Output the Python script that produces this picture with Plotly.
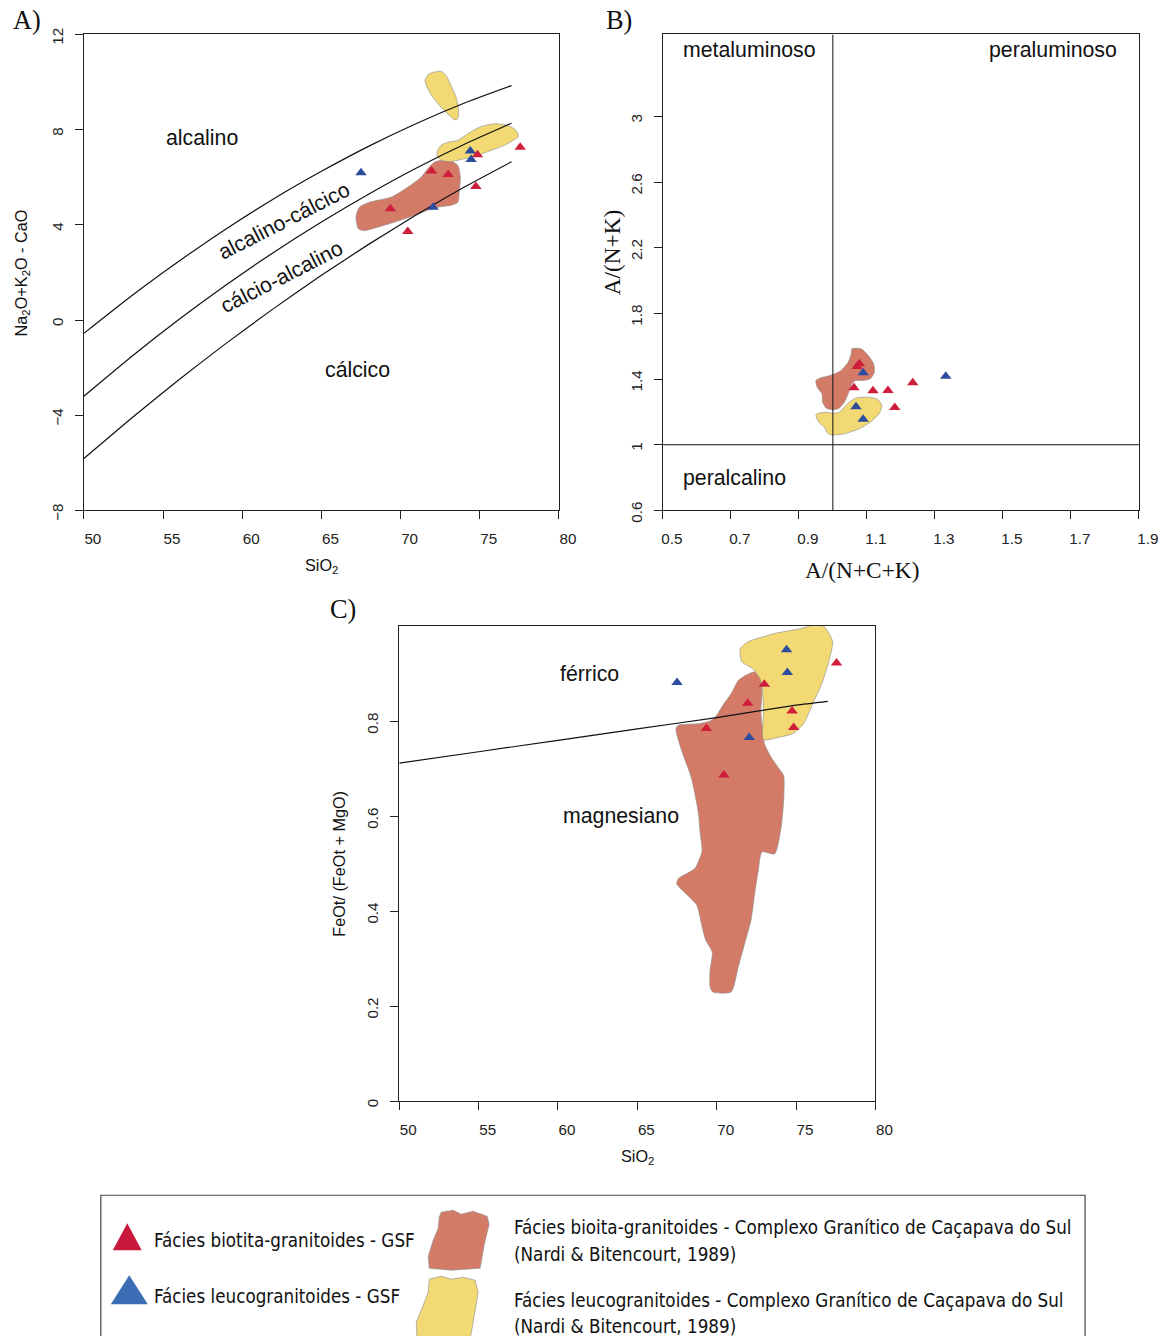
import plotly.graph_objects as go

W, H = 1172, 1336

# ---------------- DATA ----------------
# Panel A: MALI boundaries (Frost et al. 2001)
mali_sio2 = [50, 53, 56, 59, 62, 65, 68, 71, 74, 77]
mali_alk_alkcalc = [-0.56, 1.01, 2.47, 3.84, 5.10, 6.25, 7.31, 8.26, 9.11, 9.85]
mali_alkcalc_calcalk = [-3.20, -1.54, 0.02, 1.48, 2.85, 4.12, 5.30, 6.39, 7.38, 8.27]
mali_calcalk_calc = [-5.82, -4.13, -2.51, -0.97, 0.49, 1.88, 3.19, 4.42, 5.58, 6.65]

# Samples: biotite granitoids (red) and leucogranitoids (blue)
sio2_red = [71.95, 73.0, 74.85, 77.55, 74.75, 69.35, 70.45]
mali_red = [6.26, 6.12, 6.95, 7.26, 5.61, 4.68, 3.72]
fe_red = [0.838, 0.878, 0.787, 0.923, 0.822, 0.785, 0.687]
acnk_red = [1.078, 1.071, 1.062, 1.118, 1.162, 1.235, 1.182]
ank_red = [1.493, 1.477, 1.347, 1.329, 1.331, 1.378, 1.227]

sio2_blue = [67.5, 74.4, 74.45, 72.05]
mali_blue = [6.19, 7.10, 6.75, 4.74]
fe_blue = [0.882, 0.951, 0.903, 0.766]
acnk_blue = [1.089, 1.332, 1.068, 1.089]
ank_blue = [1.438, 1.418, 1.231, 1.156]

# Fields of the Caçapava do Sul granitic complex (Nardi & Bitencourt, 1989)
a_bio_x = [67.33, 67.18, 67.39, 68.02, 69.39, 70.45, 71.29, 71.71, 72.13, 72.55, 73.18, 73.61,
           73.77, 73.71, 73.61, 73.18, 72.34, 71.71, 70.87, 69.60, 68.55, 67.71]
a_bio_y = [3.84, 4.32, 4.74, 4.95, 5.16, 5.58, 6.00, 6.36, 6.63, 6.71, 6.68, 6.50,
           6.00, 5.45, 4.95, 4.82, 4.74, 4.61, 4.39, 4.11, 3.90, 3.76]
a_leu1_x = [72.34, 72.55, 72.97, 73.61, 74.24, 75.08, 75.92, 76.77, 77.29, 77.44, 77.18, 76.55,
            75.71, 74.87, 74.02, 73.18, 72.55, 72.30]
a_leu1_y = [7.13, 7.34, 7.47, 7.55, 7.83, 8.13, 8.25, 8.18, 7.97, 7.71, 7.58, 7.34,
            7.13, 6.92, 6.78, 6.66, 6.71, 6.92]
a_leu2_x = [71.81, 72.13, 72.55, 72.87, 73.18, 73.50, 73.65, 73.61, 73.39, 73.08, 72.55, 72.03,
            71.71, 71.54]
a_leu2_y = [10.35, 10.42, 10.45, 10.28, 9.86, 9.37, 8.88, 8.46, 8.42, 8.60, 8.95, 9.37,
            9.72, 10.07]

b_bio_x = [1.056, 1.083, 1.104, 1.120, 1.122, 1.110, 1.088, 1.066, 1.056, 1.045, 1.034, 1.018,
           1.002, 0.981, 0.970, 0.968, 0.954, 0.950, 0.965, 0.992, 1.024, 1.045, 1.054]
b_bio_y = [1.585, 1.585, 1.544, 1.493, 1.442, 1.402, 1.391, 1.391, 1.371, 1.310, 1.259, 1.222,
           1.212, 1.222, 1.259, 1.310, 1.350, 1.391, 1.408, 1.422, 1.452, 1.503, 1.554]
b_leu_x = [0.954, 0.981, 1.002, 1.020, 1.043, 1.066, 1.099, 1.131, 1.144, 1.136, 1.110, 1.077,
           1.034, 1.002, 0.986, 0.975, 0.959, 0.950]
b_leu_y = [1.190, 1.198, 1.192, 1.200, 1.250, 1.284, 1.290, 1.278, 1.239, 1.189, 1.137, 1.097,
           1.067, 1.060, 1.067, 1.107, 1.137, 1.178]

c_bio_x = [72.39, 72.74, 72.85, 72.78, 72.85, 73.01, 73.42, 74.00, 74.22, 74.22, 74.06, 73.65,
           72.85, 72.62, 72.39, 72.16, 71.82, 71.36, 70.91, 69.76, 69.58, 69.58, 69.72, 69.31,
           69.08, 68.74, 67.93, 67.48, 67.59, 68.62, 68.96, 69.08, 68.96, 68.85, 68.62, 68.39,
           67.93, 67.59, 67.43, 67.59, 68.85, 69.65, 70.00, 70.45, 70.91, 71.36, 71.82]
c_bio_y = [0.904, 0.893, 0.858, 0.823, 0.795, 0.753, 0.725, 0.697, 0.686, 0.634, 0.577, 0.521,
           0.525, 0.486, 0.437, 0.381, 0.339, 0.283, 0.230, 0.230, 0.241, 0.276, 0.314, 0.339,
           0.367, 0.413, 0.441, 0.458, 0.469, 0.490, 0.514, 0.528, 0.564, 0.606, 0.648, 0.683,
           0.725, 0.760, 0.785, 0.792, 0.795, 0.802, 0.813, 0.837, 0.858, 0.886, 0.897]
c_leu_x = [71.48, 71.94, 73.65, 75.25, 76.05, 76.74, 77.08, 77.31, 77.08, 76.62, 76.05, 75.48,
           74.79, 73.99, 72.95, 72.88, 72.95, 72.88, 72.72, 72.26, 71.59, 71.48]
c_leu_y = [0.953, 0.967, 0.985, 0.995, 1.002, 1.000, 0.985, 0.967, 0.928, 0.879, 0.837, 0.795,
           0.774, 0.767, 0.761, 0.774, 0.816, 0.865, 0.890, 0.911, 0.925, 0.939]

# Panel C: ferroan / magnesian boundary
fe_line_sio2 = [50, 55, 60, 65, 70, 75, 77]
fe_line_val = [0.712, 0.736, 0.760, 0.784, 0.808, 0.834, 0.842]

# Tick values
a_xticks = [50, 55, 60, 65, 70, 75, 80]
a_yticks = [-8, -4, 0, 4, 8, 12]
b_xticks = [0.5, 0.7, 0.9, 1.1, 1.3, 1.5, 1.7, 1.9]
b_yticks = [0.6, 1, 1.4, 1.8, 2.2, 2.6, 3]
c_yticks = [0, 0.2, 0.4, 0.6, 0.8]

# ---------------- STYLE ----------------
RED = "#cf1d3c"
BLUE = "#2d4c9e"
ORANGE = "#d47b68"
YELLOW = "#f2d974"
SANS = "Liberation Sans, Arial, sans-serif"
SERIF = "Liberation Serif, Times New Roman, serif"
LEG = "DejaVu Sans Condensed, Liberation Sans, sans-serif"

# layout calibration (design pixel -> page pixel)
SX, SY, OY = 0.983, 0.986, 6.5
FS = 1.015


def pxx(x):
    return (x / SX) / W


def pxy(y):
    return 1 - ((y - OY) / SY) / H


def f(s):
    return s * FS


fig = go.Figure()


def poly(xs, ys, color, xa, ya):
    fig.add_trace(go.Scatter(x=xs + xs[:1], y=ys + ys[:1], mode="lines", fill="toself",
                             fillcolor=color, line=dict(color="#8a8a8a", width=0.6, shape="spline", smoothing=0.6),
                             hoverinfo="skip", showlegend=False, xaxis=xa, yaxis=ya))


def line(xs, ys, xa, ya, w=1.2):
    fig.add_trace(go.Scatter(x=xs, y=ys, mode="lines", line=dict(color="#111", width=w, shape="spline", smoothing=0.5),
                             hoverinfo="skip", showlegend=False, xaxis=xa, yaxis=ya))


def pts(xs, ys, color, xa, ya):
    fig.add_trace(go.Scatter(x=xs, y=ys, mode="markers",
                             marker=dict(symbol="triangle-up", size=10, color=color, line=dict(width=0)),
                             showlegend=False, xaxis=xa, yaxis=ya))


# Panel A
poly(a_bio_x, a_bio_y, ORANGE, "x", "y")
poly(a_leu1_x, a_leu1_y, YELLOW, "x", "y")
poly(a_leu2_x, a_leu2_y, YELLOW, "x", "y")
line(mali_sio2, mali_alk_alkcalc, "x", "y")
line(mali_sio2, mali_alkcalc_calcalk, "x", "y")
line(mali_sio2, mali_calcalk_calc, "x", "y")
pts(sio2_red, mali_red, RED, "x", "y")
pts(sio2_blue, mali_blue, BLUE, "x", "y")

# Panel B
poly(b_bio_x, b_bio_y, ORANGE, "x2", "y2")
poly(b_leu_x, b_leu_y, YELLOW, "x2", "y2")
line([1, 1], [0.6, 3.5], "x2", "y2", w=1)
line([0.5, 1.9], [1, 1], "x2", "y2", w=1)
pts(acnk_red, ank_red, RED, "x2", "y2")
pts(acnk_blue, ank_blue, BLUE, "x2", "y2")

# Panel C
poly(c_bio_x, c_bio_y, ORANGE, "x3", "y3")
poly(c_leu_x, c_leu_y, YELLOW, "x3", "y3")
line(fe_line_sio2, fe_line_val, "x3", "y3")
pts(sio2_red, fe_red, RED, "x3", "y3")
pts(sio2_blue, fe_blue, BLUE, "x3", "y3")

ax_common = dict(showgrid=False, zeroline=False, showline=True, mirror=True, linecolor="#222",
                 linewidth=1.2, ticks="outside", ticklen=8, tickwidth=1.2, tickcolor="#222",
                 tickfont=dict(family=SANS, size=f(15), color="#222"))
xcommon = dict(ax_common, ticklabelshift=9, ticklabelstandoff=6)
ycommon = dict(ax_common, tickangle=-90, ticklabelshift=4, ticklabelstandoff=6)

fig.update_layout(
    width=W, height=H, margin=dict(l=0, r=0, t=0, b=0),
    paper_bgcolor="white", plot_bgcolor="rgba(0,0,0,0)", showlegend=False,
    xaxis=dict(xcommon, domain=[pxx(82), pxx(558)], range=[50, 80], tickvals=a_xticks, anchor="y"),
    yaxis=dict(ycommon, domain=[pxy(510), pxy(34)], range=[-8, 12], tickvals=a_yticks, anchor="x"),
    xaxis2=dict(xcommon, domain=[pxx(662), pxx(1139)], range=[0.5, 1.9], tickvals=b_xticks,
                ticktext=[str(v) for v in b_xticks], anchor="y2"),
    yaxis2=dict(ycommon, domain=[pxy(510), pxy(34)], range=[0.6, 3.5], tickvals=b_yticks,
                ticktext=["0.6", "1", "1.4", "1.8", "2.2", "2.6", "3"], anchor="x2"),
    xaxis3=dict(xcommon, domain=[pxx(398), pxx(875)], range=[50, 80], tickvals=a_xticks, anchor="y3"),
    yaxis3=dict(ycommon, domain=[pxy(1101), pxy(626)], range=[0, 1.0], tickvals=c_yticks,
                ticktext=["0", "0.2", "0.4", "0.6", "0.8"], anchor="x3"),
)

ann = []


def txt(text, x, y, xref, yref, size=21, family=SANS, angle=0, xanchor="center", color="#111"):
    ann.append(dict(text=text, x=x, y=y, xref=xref, yref=yref, showarrow=False, textangle=angle,
                    xanchor=xanchor, yanchor="middle", font=dict(family=family, size=f(size), color=color)))


# field labels
txt("alcalino", 57.45, 7.63, "x", "y")
txt("alcalino-cálcico", 62.65, 4.15, "x", "y", angle=-27)
txt("cálcio-alcalino", 62.5, 1.8, "x", "y", angle=-27)
txt("cálcico", 67.25, -2.08, "x", "y")
txt("metaluminoso", 0.755, 3.405, "x2", "y2")
txt("peraluminoso", 1.648, 3.405, "x2", "y2")
txt("peralcalino", 0.711, 0.80, "x2", "y2")
txt("férrico", 62.0, 0.90, "x3", "y3")
txt("magnesiano", 63.95, 0.60, "x3", "y3")

# panel letters
txt("A)", pxx(25), pxy(20), "paper", "paper", size=26, family=SERIF)
txt("B)", pxx(618), pxy(20), "paper", "paper", size=26, family=SERIF)
txt("C)", pxx(342), pxy(609), "paper", "paper", size=26, family=SERIF)

# axis titles
txt("SiO<sub>2</sub>", pxx(320), pxy(566), "paper", "paper", size=16)
txt("Na<sub>2</sub>O+K<sub>2</sub>O - CaO", pxx(20), pxy(272), "paper", "paper", size=16, angle=-90)
txt("A/(N+C+K)", pxx(862), pxy(570), "paper", "paper", size=23, family=SERIF)
txt("A/(N+K)", pxx(612), pxy(252), "paper", "paper", size=23, family=SERIF, angle=-90)
txt("SiO<sub>2</sub>", pxx(637), pxy(1157), "paper", "paper", size=16)
txt("FeOt/ (FeOt + MgO)", pxx(338), pxy(863), "paper", "paper", size=16, angle=-90)

# legend texts
LS = 18.4
txt("Fácies biotita-granitoides - GSF", pxx(150), pxy(1240), "paper", "paper", size=LS, family=LEG, xanchor="left")
txt("Fácies leucogranitoides - GSF", pxx(150), pxy(1296), "paper", "paper", size=LS, family=LEG, xanchor="left")
txt("Fácies bioita-granitoides - Complexo Granítico de Caçapava do Sul", pxx(511), pxy(1227), "paper", "paper",
    size=LS, family=LEG, xanchor="left")
txt("(Nardi & Bitencourt, 1989)", pxx(511), pxy(1254), "paper", "paper", size=LS, family=LEG, xanchor="left")
txt("Fácies leucogranitoides - Complexo Granítico de Caçapava do Sul", pxx(511), pxy(1300), "paper", "paper",
    size=LS, family=LEG, xanchor="left")
txt("(Nardi & Bitencourt, 1989)", pxx(511), pxy(1326), "paper", "paper", size=LS, family=LEG, xanchor="left")

fig.update_layout(annotations=ann)


def path(pts_px):
    s = "M " + " L ".join(f"{pxx(a):.5f} {pxy(b):.5f}" for a, b in pts_px) + " Z"
    return s


shapes = [
    dict(type="rect", xref="paper", yref="paper", x0=pxx(99), x1=pxx(1085), y0=pxy(1420), y1=pxy(1195),
         line=dict(color="#444", width=1.2), fillcolor="rgba(0,0,0,0)"),
    dict(type="path", xref="paper", yref="paper", path=path([(111, 1250), (140, 1250), (125.5, 1223)]),
         fillcolor="#c8193c", line=dict(width=0)),
    dict(type="path", xref="paper", yref="paper", path=path([(109, 1304), (146, 1304), (127.5, 1275)]),
         fillcolor="#3a6db4", line=dict(width=0)),
    dict(type="path", xref="paper", yref="paper",
         path=path([(440, 1212), (452, 1210), (460, 1214), (472, 1211), (486, 1216), (488, 1224), (483, 1245),
                    (479, 1268), (450, 1270), (428, 1268), (427, 1256), (432, 1240), (437, 1228), (438, 1217)]),
         fillcolor=ORANGE, line=dict(color="#8a8a8a", width=0.6)),
    dict(type="path", xref="paper", yref="paper",
         path=path([(428, 1279), (440, 1276), (450, 1279), (462, 1277), (474, 1280), (477, 1292), (474, 1310),
                    (468, 1345), (416, 1345), (415, 1322), (422, 1305), (427, 1292)]),
         fillcolor=YELLOW, line=dict(color="#8a8a8a", width=0.6)),
]
fig.update_layout(shapes=shapes)

fig.write_html("out.html")
